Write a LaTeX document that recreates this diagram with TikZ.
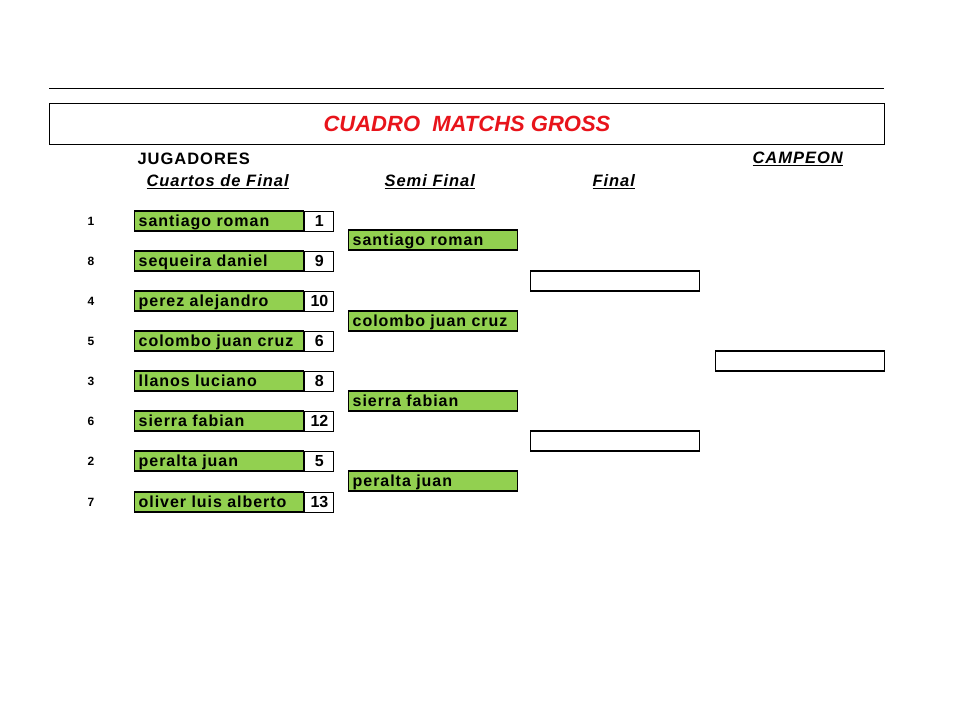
\documentclass[tikz,border=0pt]{standalone}
\usepackage{fontspec}
\setmainfont{Liberation Sans}
\newfontfamily\cellfont[LetterSpace=6]{Liberation Sans}
\begin{document}
\begin{tikzpicture}[x=1pt,y=-1pt,
    player/.style={draw, line width=1.4pt, fill=cellgreen, minimum height=20pt,
      text width=161pt, inner xsep=4pt, inner ysep=0pt, align=left,
      text height=12.5pt, text depth=2.5pt,
      font=\cellfont\bfseries\fontsize{16}{16}\selectfont},
    score/.style={draw, line width=1pt, fill=white, minimum height=20pt,
      minimum width=29pt, inner sep=0pt, text height=12.5pt, text depth=2.5pt,
      font=\bfseries\fontsize{16}{16}\selectfont},
    slot/.style={draw, line width=1.4pt, minimum height=20pt,
      minimum width=169pt, inner sep=0pt},
    seed/.style={font=\bfseries\fontsize{12}{12}\selectfont},
    head/.style={font=\cellfont\bfseries\itshape\fontsize{16.5}{16.5}\selectfont}]
  \definecolor{cellgreen}{HTML}{92D050}
  \definecolor{titlered}{HTML}{E8141B}
  \useasboundingbox (0,0) rectangle (960,720);
  % cabecera
  \draw[line width=0.8pt] (49,88) -- (884,88);
  \node[draw, line width=1pt, minimum width=835pt, minimum height=41pt, anchor=north west,
    text=titlered, font=\bfseries\itshape\fontsize{22}{22}\selectfont] (titulo) at (49,103)
    {CUADRO\ \ MATCHS GROSS};
  \node[font=\cellfont\bfseries\fontsize{16.5}{16.5}\selectfont, anchor=west] (jugadores) at (134,159) {JUGADORES};
  \node[head, anchor=west] (cuartos) at (143,182) {\underline{Cuartos de Final}};
  \node[head, anchor=west] (semi) at (381,182) {\underline{Semi Final}};
  \node[head, anchor=west] (final) at (589,182) {\underline{Final}};
  \node[head, anchor=west] (campeon) at (749,159) {\underline{CAMPEON}};
  % cuartos de final
  \node[seed] (s1) at (91,221) {1};
  \node[player, anchor=west] (q1) at (134,221) {santiago roman};
  \node[score, anchor=west] (r1) at (q1.east) {1};
  \node[seed] (s8) at (91,261) {8};
  \node[player, anchor=west] (q2) at (134,261) {sequeira daniel};
  \node[score, anchor=west] (r2) at (q2.east) {9};
  \node[seed] (s4) at (91,301) {4};
  \node[player, anchor=west] (q3) at (134,301) {perez alejandro};
  \node[score, anchor=west] (r3) at (q3.east) {10};
  \node[seed] (s5) at (91,341) {5};
  \node[player, anchor=west] (q4) at (134,341) {colombo juan cruz};
  \node[score, anchor=west] (r4) at (q4.east) {6};
  \node[seed] (s3) at (91,381) {3};
  \node[player, anchor=west] (q5) at (134,381) {llanos luciano};
  \node[score, anchor=west] (r5) at (q5.east) {8};
  \node[seed] (s6) at (91,421) {6};
  \node[player, anchor=west] (q6) at (134,421) {sierra fabian};
  \node[score, anchor=west] (r6) at (q6.east) {12};
  \node[seed] (s2) at (91,461) {2};
  \node[player, anchor=west] (q7) at (134,461) {peralta juan};
  \node[score, anchor=west] (r7) at (q7.east) {5};
  \node[seed] (s7) at (91,502) {7};
  \node[player, anchor=west] (q8) at (134,502) {oliver luis alberto};
  \node[score, anchor=west] (r8) at (q8.east) {13};
  % semifinal
  \node[player, anchor=west] (sf1) at (348,240) {santiago roman};
  \node[player, anchor=west] (sf2) at (348,321) {colombo juan cruz};
  \node[player, anchor=west] (sf3) at (348,401) {sierra fabian};
  \node[player, anchor=west] (sf4) at (348,481) {peralta juan};
  % final y campeon
  \node[slot, anchor=west] (f1) at (530,281) {};
  \node[slot, anchor=west] (f2) at (530,441) {};
  \node[slot, anchor=west] (champ) at (715,361) {};
\end{tikzpicture}
\end{document}
